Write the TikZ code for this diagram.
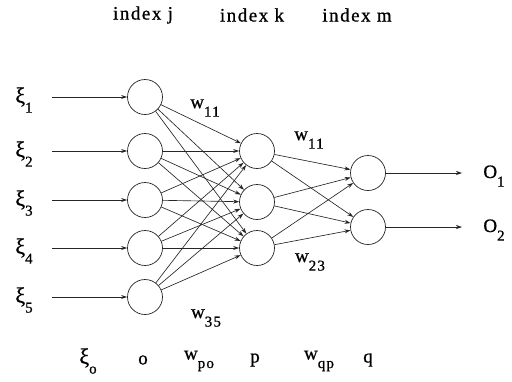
\documentclass[tikz,border=0pt]{standalone}
\usepackage{fontspec}
\setmainfont{Liberation Serif}[LetterSpace=8,FakeBold=0.8]
\usetikzlibrary{arrows.meta}
\newcommand{\lsub}[2]{#1\raisebox{-0.45em}{\fontsize{15}{15}\selectfont #2}}
\begin{document}
\begin{tikzpicture}[x=1pt,y=-1pt,
  neuron/.style={draw=black!85,circle,minimum size=35pt,inner sep=0pt,line width=0.7pt},
  conn/.style={draw=black!85,line width=0.65pt,-{Stealth[length=6pt,width=4pt]}},
  lab/.style={font=\fontsize{19}{22}\selectfont,inner sep=0pt}]
\useasboundingbox (0,0) rectangle (512,381);
% top labels
\node[lab] (tj) at (143,15) {index j};
\node[lab] (tk) at (252,15) {index k};
\node[lab] (tm) at (357,15) {index m};
% input layer
\foreach \i/\y in {1/97,2/151,3/200,4/248,5/297}{
  \node[neuron] (i\i) at (145,\y) {};
  \coordinate (s\i) at (52,\y);
  \node[lab] (x\i) at (24,\y+3) {\lsub{\fontsize{22}{22}\selectfont ξ}{\i}};
  \draw[conn] (s\i) -- (i\i);
}
% hidden layer
\foreach \k/\y in {1/151,2/202,3/248}{
  \node[neuron] (h\k) at (257,\y) {};
}
% output layer
\foreach \m/\y in {1/173,2/227}{
  \node[neuron] (o\m) at (368,\y) {};
  \coordinate (e\m) at (462,\y);
  \draw[conn] (o\m) -- (e\m);
  \node[lab] (y\m) at (494,\y+3) {\lsub{O}{\m}};
}
\foreach \i in {1,...,5}{\foreach \k in {1,2,3}{\draw[conn] (i\i) -- (h\k);}}
\foreach \k in {1,2,3}{\foreach \m in {1,2}{\draw[conn] (h\k) -- (o\m);}}
% weight labels
\node[lab] (w1) at (205,108) {\lsub{w}{11}};
\node[lab] (w2) at (309,140) {\lsub{w}{11}};
\node[lab] (w3) at (310,262) {\lsub{w}{23}};
\node[lab] (w4) at (206,318) {\lsub{w}{35}};
% bottom labels
\node[lab] (b1) at (88,361) {\lsub{\fontsize{22}{22}\selectfont ξ}{o}};
\node[lab] (b2) at (143,360) {o};
\node[lab] (b3) at (199,361) {\lsub{w}{po}};
\node[lab] (b4) at (255,360) {p};
\node[lab] (b5) at (319,361) {\lsub{w}{qp}};
\node[lab] (b6) at (368,360) {q};
\end{tikzpicture}
\end{document}
